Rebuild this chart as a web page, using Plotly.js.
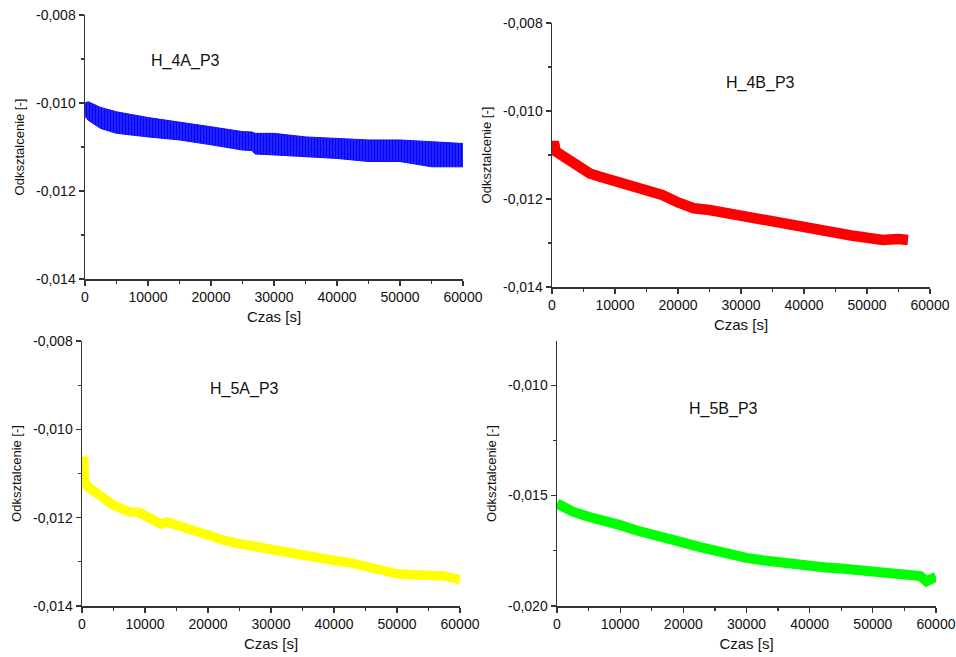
<!DOCTYPE html>
<html>
<head>
<meta charset="utf-8">
<script src="https://cdn.plot.ly/plotly-3.0.1.min.js"></script>
<style>html,body{margin:0;padding:0;background:#fff;}#chart{width:956px;height:657px;}</style>
</head>
<body>
<div id="chart"></div>
<script>
// ---- data ----
const xTickVals = [0, 10000, 20000, 30000, 40000, 50000, 60000];
const xTickText = ['0', '10000', '20000', '30000', '40000', '50000', '60000'];
const yTickVals = [-0.008, -0.010, -0.012, -0.014];
const yTickText = ['-0,008', '-0,010', '-0,012', '-0,014'];
const yTickVals4 = [-0.010, -0.015, -0.020];
const yTickText4 = ['-0,010', '-0,015', '-0,020'];

const panelNames = ['H_4A_P3', 'H_4B_P3', 'H_5A_P3', 'H_5B_P3'];
const xTitle = 'Czas [s]';
const yTitle = 'Odksztalcenie [-]';

// H_4A_P3 (blue, noisy band: upper and lower envelope)
const t4A = [0, 500, 2500, 5000, 10000, 15000, 20000, 25000, 26500, 27000, 30000, 35000, 40000, 45000, 50000, 55000, 60000];
const up4A = [-0.01000, -0.00997, -0.01010, -0.01020, -0.01033, -0.01043, -0.01054, -0.01065, -0.01066, -0.01069, -0.01069, -0.01077, -0.01080, -0.01084, -0.01084, -0.01088, -0.01092];
const lo4A = [-0.01030, -0.01039, -0.01058, -0.01069, -0.01077, -0.01084, -0.01095, -0.01107, -0.01108, -0.01116, -0.01118, -0.01122, -0.01126, -0.01133, -0.01133, -0.01145, -0.01145];

// H_4B_P3 (red)
const t4B = [0, 300, 600, 1000, 2000, 3000, 4000, 5000, 6000, 7500, 10000, 12500, 15000, 17500, 20000, 22500, 25000, 27500, 30000, 32500, 35000, 37500, 40000, 42500, 45000, 47500, 50000, 52500, 55000, 56500];
const v4B = [-0.01092, -0.01070, -0.01092, -0.01096, -0.01102, -0.01111, -0.01122, -0.01134, -0.01142, -0.01149, -0.01160, -0.01172, -0.01179, -0.01191, -0.01208, -0.01221, -0.01225, -0.01232, -0.01238, -0.01244, -0.01251, -0.01261, -0.01267, -0.01274, -0.01279, -0.01283, -0.01288, -0.01293, -0.01291, -0.01293];

// H_5A_P3 (yellow)
const t5A = [0, 250, 400, 1000, 2500, 5000, 7500, 9000, 10000, 12500, 13500, 15000, 17500, 20000, 22500, 25000, 27500, 30000, 32500, 35000, 37500, 40000, 42500, 45000, 47500, 50000, 52500, 55000, 57500, 60000];
const v5A = [-0.01110, -0.01062, -0.01118, -0.01131, -0.01146, -0.01172, -0.01187, -0.01188, -0.01195, -0.01214, -0.01210, -0.01217, -0.01232, -0.01240, -0.01251, -0.01259, -0.01266, -0.01274, -0.01280, -0.01285, -0.01290, -0.01297, -0.01302, -0.01312, -0.01319, -0.01327, -0.01329, -0.01331, -0.01332, -0.01340];

// H_5B_P3 (green)
const t5B = [0, 1000, 2500, 5000, 7500, 10000, 12500, 15000, 17500, 20000, 22500, 25000, 27500, 30000, 32500, 35000, 37500, 40000, 42500, 45000, 47500, 50000, 52500, 55000, 57500, 58500, 60000];
const v5B = [-0.01536, -0.01551, -0.01573, -0.01596, -0.01611, -0.01634, -0.01657, -0.01672, -0.01691, -0.01713, -0.01732, -0.01752, -0.01770, -0.01782, -0.01793, -0.01803, -0.01811, -0.01818, -0.01826, -0.01830, -0.01838, -0.01843, -0.01849, -0.01853, -0.01864, -0.01888, -0.01868];

// ---- chart ----
const FONT = 'Liberation Sans, Arial, sans-serif';
const W = 956, H = 657;
const px = v => v / W;
const py = v => 1 - v / H;

const traces = [
  {x: t4A, y: lo4A, xaxis: 'x', yaxis: 'y', mode: 'lines', line: {color: '#1010ff', width: 1}, hoverinfo: 'skip', showlegend: false},
  {x: t4A, y: up4A, xaxis: 'x', yaxis: 'y', mode: 'lines', line: {color: '#1010ff', width: 1}, fill: 'tonexty',
   fillcolor: '#2020ff', fillpattern: {shape: '|', fgcolor: '#0000ff', bgcolor: '#3a3aff', size: 3, solidity: 0.6},
   showlegend: false, name: panelNames[0]},
  {x: t4B, y: v4B, xaxis: 'x2', yaxis: 'y2', mode: 'lines', line: {color: '#ff0000', width: 10.5}, showlegend: false, name: panelNames[1]},
  {x: t5A, y: v5A, xaxis: 'x3', yaxis: 'y3', mode: 'lines', line: {color: '#ffff00', width: 9.5}, showlegend: false, name: panelNames[2]},
  {x: t5B, y: v5B, xaxis: 'x4', yaxis: 'y4', mode: 'lines', line: {color: '#00ff00', width: 10}, showlegend: false, name: panelNames[3]}
];

function xAxis(d0, d1, anchor) {
  return {
    domain: [px(d0), px(d1)], anchor: anchor, range: [0, 60000],
    showgrid: false, zeroline: false, showline: true, linecolor: '#333', linewidth: 1.5,
    ticks: 'outside', ticklen: 5, tickwidth: 1.2, tickcolor: '#333',
    tickmode: 'array', tickvals: xTickVals, ticktext: xTickText,
    minor: {tickmode: 'linear', tick0: 0, dtick: 5000, ticks: 'outside', ticklen: 3, tickcolor: '#333', showgrid: false},
    tickfont: {family: FONT, size: 14, color: '#111'},
    title: {text: xTitle, font: {family: FONT, size: 15, color: '#111'}, standoff: 7},
    fixedrange: true
  };
}
function yAxis(top, bottom, anchor, range, tv, tt, minorTick0, minorDtick) {
  return {
    domain: [py(bottom), py(top)], anchor: anchor, range: range,
    showgrid: false, zeroline: false, showline: true, linecolor: '#333', linewidth: 1.5,
    ticks: 'outside', ticklen: 5, tickwidth: 1.2, tickcolor: '#333',
    tickmode: 'array', tickvals: tv, ticktext: tt,
    minor: {tickmode: 'linear', tick0: minorTick0, dtick: minorDtick, ticks: 'outside', ticklen: 3, tickcolor: '#333', showgrid: false},
    tickfont: {family: FONT, size: 14, color: '#111'},
    title: {text: yTitle, font: {family: FONT, size: 13, color: '#111'}, standoff: 8},
    fixedrange: true
  };
}

function label(text, x, y) {
  return {text: text, xref: 'paper', yref: 'paper', x: px(x), y: py(y), xanchor: 'center', yanchor: 'middle',
          showarrow: false, font: {family: FONT, size: 16, color: '#111'}};
}

const layout = {
  width: W, height: H,
  margin: {l: 0, r: 0, t: 0, b: 0},
  paper_bgcolor: '#fff', plot_bgcolor: '#fff',
  showlegend: false,
  font: {family: FONT, color: '#111'},
  xaxis: xAxis(85, 463, 'y'),
  yaxis: yAxis(15, 279, 'x', [-0.014, -0.008], yTickVals, yTickText, -0.009, 0.002),
  xaxis2: xAxis(552, 930, 'y2'),
  yaxis2: yAxis(23, 287, 'x2', [-0.014, -0.008], yTickVals, yTickText, -0.009, 0.002),
  xaxis3: xAxis(82, 460, 'y3'),
  yaxis3: yAxis(341, 606, 'x3', [-0.014, -0.008], yTickVals, yTickText, -0.009, 0.002),
  xaxis4: xAxis(557, 936, 'y4'),
  yaxis4: yAxis(341, 606, 'x4', [-0.020, -0.008], yTickVals4, yTickText4, -0.0125, 0.005),
  annotations: [
    label(panelNames[0], 185, 61),
    label(panelNames[1], 760, 83),
    label(panelNames[2], 244, 389),
    label(panelNames[3], 723, 409)
  ]
};

Plotly.newPlot('chart', traces, layout, {staticPlot: true, displayModeBar: false});
</script>
</body>
</html>
